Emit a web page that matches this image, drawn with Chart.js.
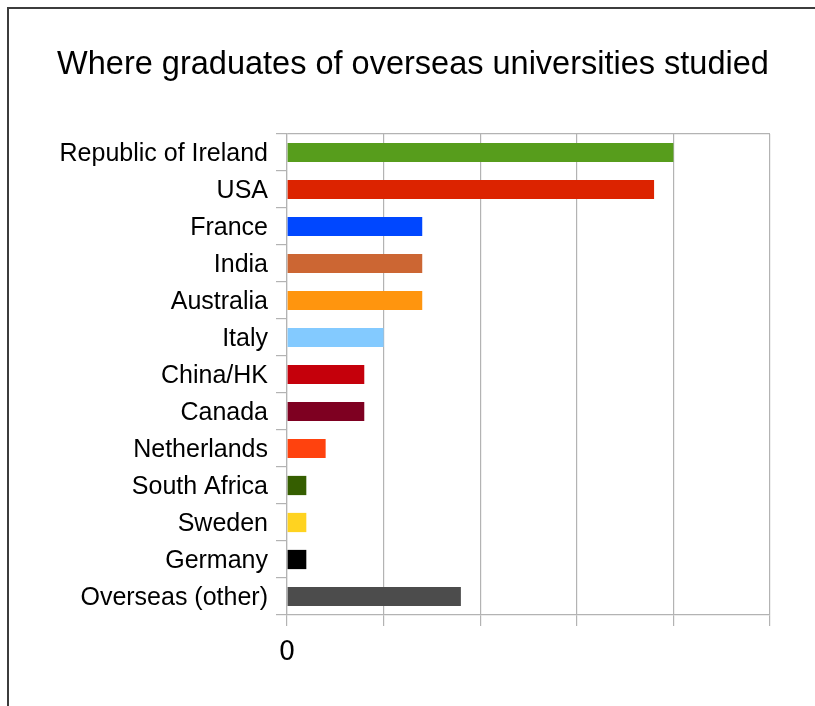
<!DOCTYPE html>
<html>
<head>
<meta charset="utf-8">
<title>Where graduates of overseas universities studied</title>
<script src="https://cdn.jsdelivr.net/npm/chart.js@4.4.0/dist/chart.umd.min.js"></script>
<style>
	html, body { margin: 0; padding: 0; background: #fff; }
	#wrap { position: relative; width: 815px; height: 706px; overflow: hidden; }
	#frame { position: absolute; left: 7px; top: 7px; width: 900px; height: 800px;
		border-top: 2px solid #3c3c3c; border-left: 2px solid #3c3c3c; }
	#chart { position: absolute; left: 0; top: 0; }
</style>
</head>
<body>
<div id="wrap">
	<div id="frame"></div>
	<canvas id="chart" width="815" height="706"></canvas>
</div>
<script>
// データ
var countries = ['Republic of Ireland', 'USA', 'France', 'India', 'Australia', 'Italy',
	'China/HK', 'Canada', 'Netherlands', 'South Africa', 'Sweden', 'Germany', 'Overseas (other)'];
var graduates = [20, 19, 7, 7, 7, 5, 4, 4, 2, 1, 1, 1, 9];
var barColors = ['#579d1c', '#dc2300', '#0047ff', '#cc6633', '#ff950e', '#83caff',
	'#c5000b', '#7e0021', '#ff420e', '#355e00', '#ffd320', '#000000', '#4c4c4c'];
var xTicks = [0, 5, 10, 15, 20, 25];
var xTickLabels = ['0', '', '', '', '', ''];

var gridGrey = '#b3b3b3';

// タイトルは枠全体の中央に置く
var titleCenter = {
	id: 'titleCenter',
	afterLayout: function(chart) {
		chart.titleBlock.left = 11;
		chart.titleBlock.right = 815;
	}
};

var ctx = document.getElementById('chart').getContext('2d');
var myBarChart = new Chart(ctx, {
	type: 'bar',
	data: {
		labels: countries,
		datasets: [{
			data: graduates,
			backgroundColor: barColors,
			borderWidth: 0,
			barPercentage: 0.52,
			categoryPercentage: 1.0
		}]
	},
	plugins: [titleCenter],
	options: {
		indexAxis: 'y',
		responsive: false,
		animation: false,
		layout: {
			padding: { left: 0, right: 45, top: 0, bottom: 36 }
		},
		plugins: {
			legend: { display: false },
			tooltip: { enabled: false },
			title: {
				display: true,
				text: 'Where graduates of overseas universities studied',
				color: '#000',
				font: { family: 'Liberation Sans', size: 32.5, weight: 'normal' },
				padding: { top: 46, bottom: 49 }
			}
		},
		scales: {
			x: {
				min: xTicks[0],
				max: xTicks[xTicks.length - 1],
				ticks: {
					stepSize: 5,
					padding: 12,
					color: '#000',
					maxRotation: 0,
					font: { family: 'DejaVu Sans', size: 26 },
					callback: function(value) {
						var i = xTicks.indexOf(value);
						return i >= 0 ? xTickLabels[i] : '';
					}
				},
				grid: { color: gridGrey, lineWidth: 1.2, tickLength: 11 },
				border: { color: gridGrey, width: 1.2 },
				afterFit: function(scale) { scale.height = 55; }
			},
			y: {
				ticks: {
					padding: 8,
					labelOffset: 2,
					color: '#000',
					font: { family: 'Liberation Sans', size: 25 }
				},
				grid: {
					offset: true,
					tickLength: 11,
					lineWidth: 1.2,
					tickColor: gridGrey,
					// 上端の枠線だけ描く
					color: function(c) {
						return c.index === 0 ? gridGrey : 'rgba(0,0,0,0)';
					}
				},
				border: { color: gridGrey, width: 1.2 },
				afterFit: function(scale) { scale.width = 287; }
			}
		}
	}
});
</script>
</body>
</html>
